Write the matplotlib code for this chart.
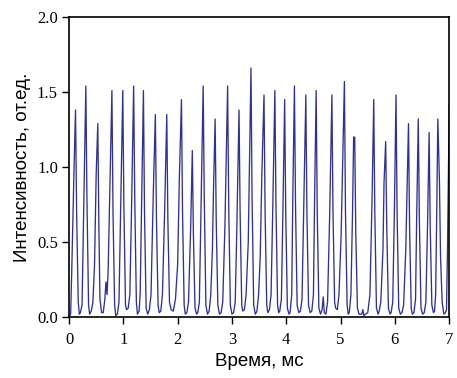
import matplotlib
matplotlib.use("Agg")
import matplotlib.pyplot as plt
from matplotlib.ticker import FormatStrFormatter

# Intensity trace vertices: time in ms, intensity in rel. units
t_ms = [
    0.00, 0.03, 0.05, 0.09, 0.12, 0.14, 0.17, 0.19,
    0.21, 0.24, 0.27, 0.31, 0.33, 0.36, 0.38,
    0.41, 0.44, 0.47, 0.50, 0.53, 0.55, 0.57, 0.60,
    0.63, 0.66, 0.68, 0.70, 0.72, 0.76, 0.79, 0.81, 0.84, 0.86,
    0.89, 0.92, 0.95, 0.99, 1.01, 1.04, 1.06,
    1.09, 1.12, 1.15, 1.19, 1.21, 1.24, 1.26,
    1.29, 1.31, 1.34, 1.37, 1.39, 1.42, 1.45,
    1.48, 1.51, 1.55, 1.59, 1.61, 1.64, 1.66,
    1.69, 1.72, 1.76, 1.80, 1.82, 1.85, 1.88,
    1.92, 1.96, 2.00, 2.03, 2.07, 2.09, 2.12, 2.14,
    2.17, 2.20, 2.24, 2.27, 2.29, 2.32, 2.35,
    2.37, 2.40, 2.43, 2.47, 2.49, 2.52, 2.55,
    2.58, 2.61, 2.64, 2.66, 2.69, 2.71, 2.74, 2.77,
    2.80, 2.83, 2.87, 2.92, 2.94, 2.97, 3.00,
    3.03, 3.06, 3.09, 3.13, 3.15, 3.18, 3.20,
    3.23, 3.26, 3.30, 3.35, 3.37, 3.40, 3.43,
    3.46, 3.49, 3.52, 3.55, 3.59, 3.61, 3.64, 3.66,
    3.69, 3.72, 3.75, 3.79, 3.81, 3.84, 3.86,
    3.88, 3.91, 3.94, 3.97, 3.99, 4.02, 4.05,
    4.07, 4.10, 4.12, 4.15, 4.17, 4.20, 4.23,
    4.26, 4.29, 4.32, 4.36, 4.38, 4.41, 4.44,
    4.47, 4.50, 4.52, 4.55, 4.57, 4.60, 4.63,
    4.66, 4.68, 4.70,
    4.73, 4.76, 4.80, 4.84, 4.86, 4.89, 4.91,
    4.94, 4.97, 5.01, 5.07, 5.09, 5.12, 5.14,
    5.16, 5.19, 5.22, 5.24, 5.26, 5.28, 5.31, 5.34,
    5.37, 5.39, 5.41, 5.43,
    5.46, 5.50, 5.54, 5.58, 5.61, 5.63, 5.66, 5.69,
    5.71, 5.74, 5.78, 5.80, 5.83, 5.85, 5.88, 5.91,
    5.93, 5.96, 5.99, 6.02, 6.04, 6.07, 6.10,
    6.13, 6.16, 6.20, 6.25, 6.27, 6.30, 6.32,
    6.35, 6.38, 6.40, 6.43, 6.45, 6.48, 6.51,
    6.54, 6.57, 6.60, 6.63, 6.65, 6.68, 6.71,
    6.73, 6.75, 6.77, 6.79, 6.82, 6.84, 6.87, 6.90,
    6.93, 6.95, 6.97, 7.00,
]

intensity = [
    0.00, 0.02, 0.30, 0.95, 1.38, 0.70, 0.10, 0.02,
    0.03, 0.08, 0.70, 1.54, 0.80, 0.08, 0.02,
    0.04, 0.10, 0.35, 0.95, 1.29, 0.60, 0.12, 0.03,
    0.03, 0.12, 0.235, 0.15, 0.30, 1.00, 1.51, 0.70, 0.08, 0.01,
    0.02, 0.10, 0.70, 1.51, 0.75, 0.08, 0.05,
    0.06, 0.15, 0.70, 1.54, 0.80, 0.10, 0.02,
    0.04, 0.15, 0.85, 1.51, 0.70, 0.06, 0.02,
    0.05, 0.15, 0.80, 1.35, 0.65, 0.08, 0.03,
    0.04, 0.15, 0.70, 1.35, 0.65, 0.10, 0.05,
    0.04, 0.12, 0.35, 0.90, 1.45, 0.70, 0.08, 0.02,
    0.03, 0.10, 0.60, 1.11, 0.55, 0.06, 0.02,
    0.03, 0.10, 0.70, 1.54, 0.80, 0.08, 0.02,
    0.04, 0.15, 0.45, 0.85, 1.32, 0.65, 0.08, 0.02,
    0.03, 0.10, 0.60, 1.54, 0.75, 0.08, 0.02,
    0.03, 0.10, 0.60, 1.38, 0.70, 0.08, 0.04,
    0.05, 0.15, 0.50, 1.66, 0.80, 0.08, 0.02,
    0.04, 0.15, 0.40, 0.95, 1.48, 0.70, 0.08, 0.03,
    0.05, 0.15, 0.70, 1.51, 0.75, 0.08, 0.03,
    0.04, 0.12, 0.75, 1.45, 0.70, 0.06, 0.02,
    0.03, 0.15, 0.80, 1.54, 0.75, 0.08, 0.03,
    0.04, 0.12, 0.70, 1.48, 0.70, 0.08, 0.03,
    0.04, 0.15, 0.75, 1.51, 0.70, 0.06, 0.02,
    0.05, 0.135, 0.03,
    0.02, 0.10, 0.70, 1.48, 0.70, 0.10, 0.06,
    0.05, 0.15, 0.55, 1.57, 0.70, 0.08, 0.02,
    0.03, 0.15, 0.70, 1.20, 1.20, 0.55, 0.06, 0.02,
    0.02, 0.02, 0.05, 0.01,
    0.02, 0.03, 0.15, 0.80, 1.45, 0.70, 0.06, 0.02,
    0.04, 0.10, 0.45, 0.90, 1.17, 0.60, 0.06, 0.02,
    0.03, 0.10, 0.70, 1.48, 0.70, 0.06, 0.02,
    0.03, 0.08, 0.45, 1.29, 0.60, 0.06, 0.02,
    0.03, 0.12, 0.65, 1.32, 0.65, 0.06, 0.02,
    0.03, 0.10, 0.60, 1.23, 0.60, 0.08, 0.03,
    0.04, 0.15, 0.70, 1.32, 0.90, 0.40, 0.10, 0.02,
    0.03, 0.05, 0.50, 1.41,
]

x_ticks = [0, 1, 2, 3, 4, 5, 6, 7]
y_ticks = [0.0, 0.5, 1.0, 1.5, 2.0]

fig = plt.figure(figsize=(4.57, 3.78), dpi=100)
ax = fig.add_axes([0.151, 0.161, 0.832, 0.794])

ax.plot(t_ms, intensity, color="#30309a", lw=0.95)

ax.set_xlim(0, 7)
ax.set_ylim(0, 2.0)
ax.set_xticks(x_ticks)
ax.set_yticks(y_ticks)
ax.yaxis.set_major_formatter(FormatStrFormatter("%.1f"))

for lbl in ax.get_xticklabels() + ax.get_yticklabels():
    lbl.set_fontfamily("Liberation Serif")
    lbl.set_fontsize(12)

ax.tick_params(direction="out", length=5, width=1.0, top=False, right=False)
ax.tick_params(axis="y", pad=3)
ax.tick_params(axis="x", pad=6)
for sp in ax.spines.values():
    sp.set_linewidth(1.2)
    sp.set_color("black")

ax.set_xlabel("Время, мс", family="Liberation Sans", fontsize=13.5, labelpad=3)
ax.set_ylabel("Интенсивность, от.ед.", family="Liberation Sans", fontsize=13.5, labelpad=4)

fig.savefig("out.png", dpi=100)
